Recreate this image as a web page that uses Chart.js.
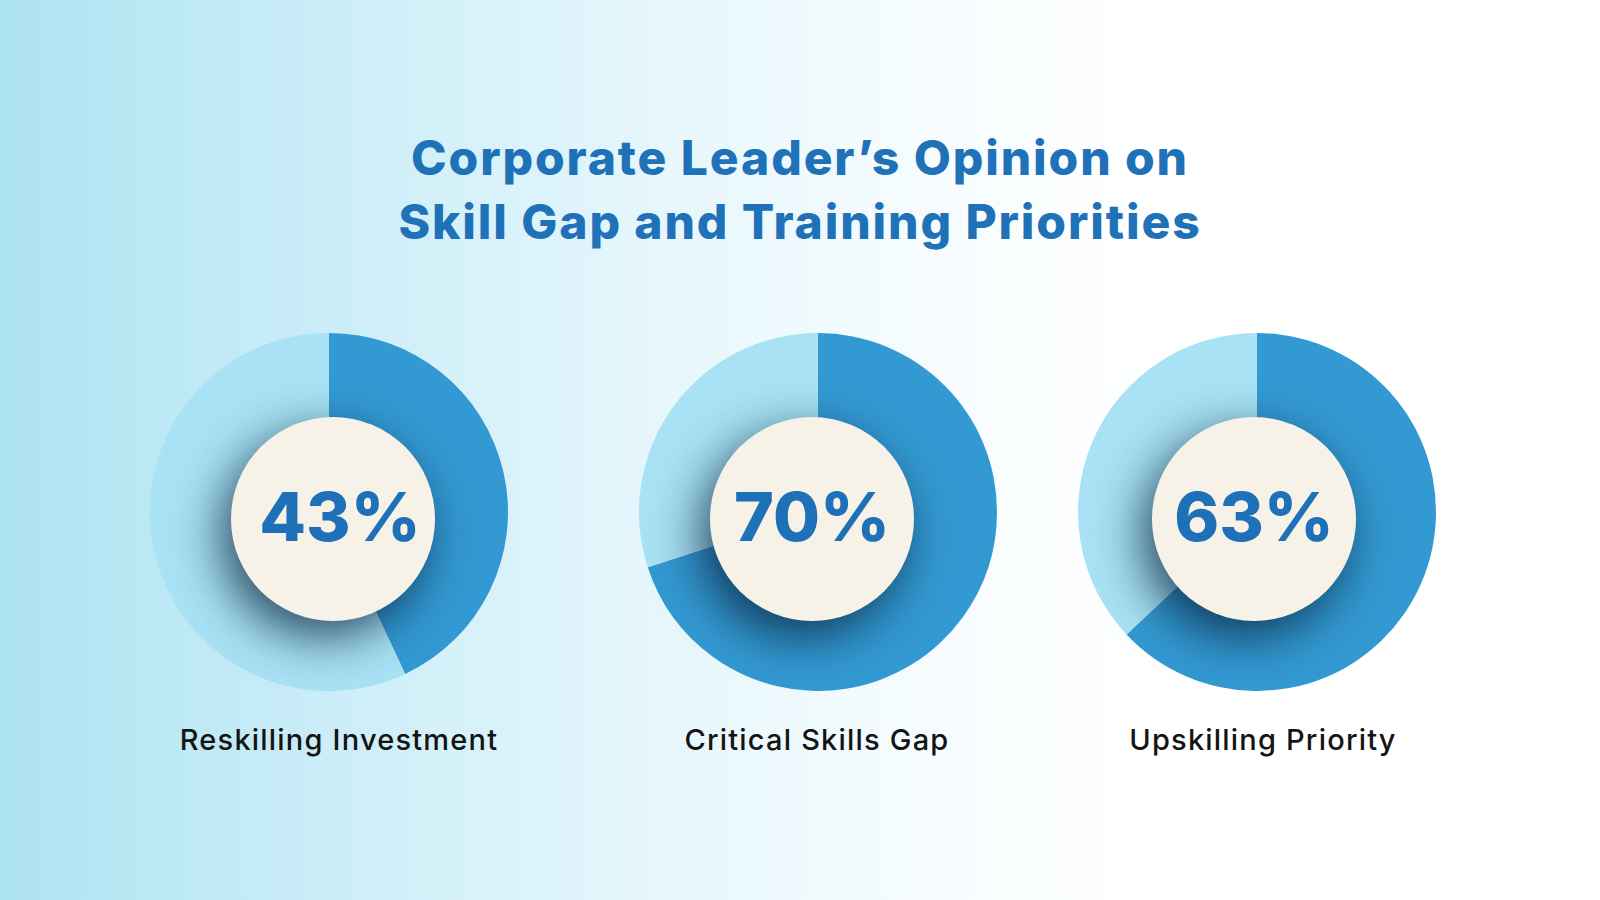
<!DOCTYPE html>
<html>
<head>
<meta charset="utf-8">
<script src="https://cdn.jsdelivr.net/npm/chart.js@4.4.1/dist/chart.umd.min.js"></script>
<style>
    html, body { margin: 0; padding: 0; }
    body {
        width: 1600px;
        height: 900px;
        overflow: hidden;
        position: relative;
        background: linear-gradient(90deg, #ade3f2 0%, #cdeef8 22%, #e7f7fc 42%, #f6fcfe 58%, #ffffff 72%);
        font-family: Inter, "Noto Sans", sans-serif;
    }
    .main-title {
        position: absolute;
        left: 0;
        top: 126px;
        width: 1600px;
        text-align: center;
        color: #1f72b8;
        font-weight: 800;
        font-size: 48px;
        line-height: 64px;
        letter-spacing: 1.9px;
    }
    .donut {
        position: absolute;
        top: 312px;
        width: 400px;
        height: 400px;
    }
    .donut-label {
        position: absolute;
        top: 722px;
        width: 400px;
        text-align: center;
        color: #141414;
        font-size: 29px;
        font-weight: 500;
        line-height: 36px;
        letter-spacing: 1.2px;
    }
</style>
</head>
<body>
    <div class="main-title">Corporate Leader’s Opinion on<br>Skill Gap and Training Priorities</div>
    <div id="charts"></div>

<script>
// --- Data ---
const categories = ['Reskilling Investment', 'Critical Skills Gap', 'Upskilling Priority'];
const percentValues = [43, 70, 63];
const percentLabels = ['43%', '70%', '63%'];

// --- Layout / Style ---
const centersX = [329, 818, 1257];
const labelCentersX = [339, 817, 1263];
const discOffsetX = [4, -6, -3];
const textOffsetX = [11, -6, -3];
const DARK_BLUE = '#3399d2';
const LIGHT_BLUE = '#a8e2f4';
const CREAM = '#f7f2e7';
const TEXT_BLUE = '#1e70b8';

// Cream disc with drop shadow + percent text drawn on top of the pie
const centerDiscPlugin = {
    id: 'centerDisc',
    afterDatasetsDraw(chart, args, opts) {
        const arc = chart.getDatasetMeta(0).data[0];
        if (!arc) return;
        const ctx = chart.ctx;
        const cx = arc.x + opts.dx;
        const cy = arc.y + 7;
        const r = arc.outerRadius * 0.57;

        ctx.save();
        ctx.shadowColor = 'rgba(8, 35, 60, 0.78)';
        ctx.shadowBlur = 48;
        ctx.shadowOffsetX = -10;
        ctx.shadowOffsetY = 16;
        ctx.beginPath();
        ctx.arc(cx, cy, r, 0, Math.PI * 2);
        ctx.fillStyle = CREAM;
        ctx.fill();
        ctx.restore();

        ctx.save();
        ctx.fillStyle = TEXT_BLUE;
        ctx.font = '800 68px Inter, "Noto Sans", sans-serif';
        ctx.textAlign = 'center';
        ctx.textBaseline = 'middle';
        ctx.fillText(opts.text, cx + opts.textDx, cy + 2);
        ctx.restore();
    }
};

const holder = document.getElementById('charts');

categories.forEach((name, i) => {
    const canvas = document.createElement('canvas');
    canvas.className = 'donut';
    canvas.width = 400;
    canvas.height = 400;
    canvas.style.left = (centersX[i] - 200) + 'px';
    holder.appendChild(canvas);

    const label = document.createElement('div');
    label.className = 'donut-label';
    label.style.left = (labelCentersX[i] - 200) + 'px';
    label.textContent = name;
    holder.appendChild(label);

    new Chart(canvas.getContext('2d'), {
        type: 'pie',
        data: {
            labels: [name, 'Other'],
            datasets: [{
                data: [percentValues[i], 100 - percentValues[i]],
                backgroundColor: [DARK_BLUE, LIGHT_BLUE],
                borderWidth: 0
            }]
        },
        options: {
            responsive: false,
            animation: false,
            layout: { padding: 21 },
            plugins: {
                legend: { display: false },
                tooltip: { enabled: false },
                centerDisc: {
                    text: percentLabels[i],
                    dx: discOffsetX[i],
                    textDx: textOffsetX[i] - discOffsetX[i]
                }
            }
        },
        plugins: [centerDiscPlugin]
    });
});
</script>
</body>
</html>
